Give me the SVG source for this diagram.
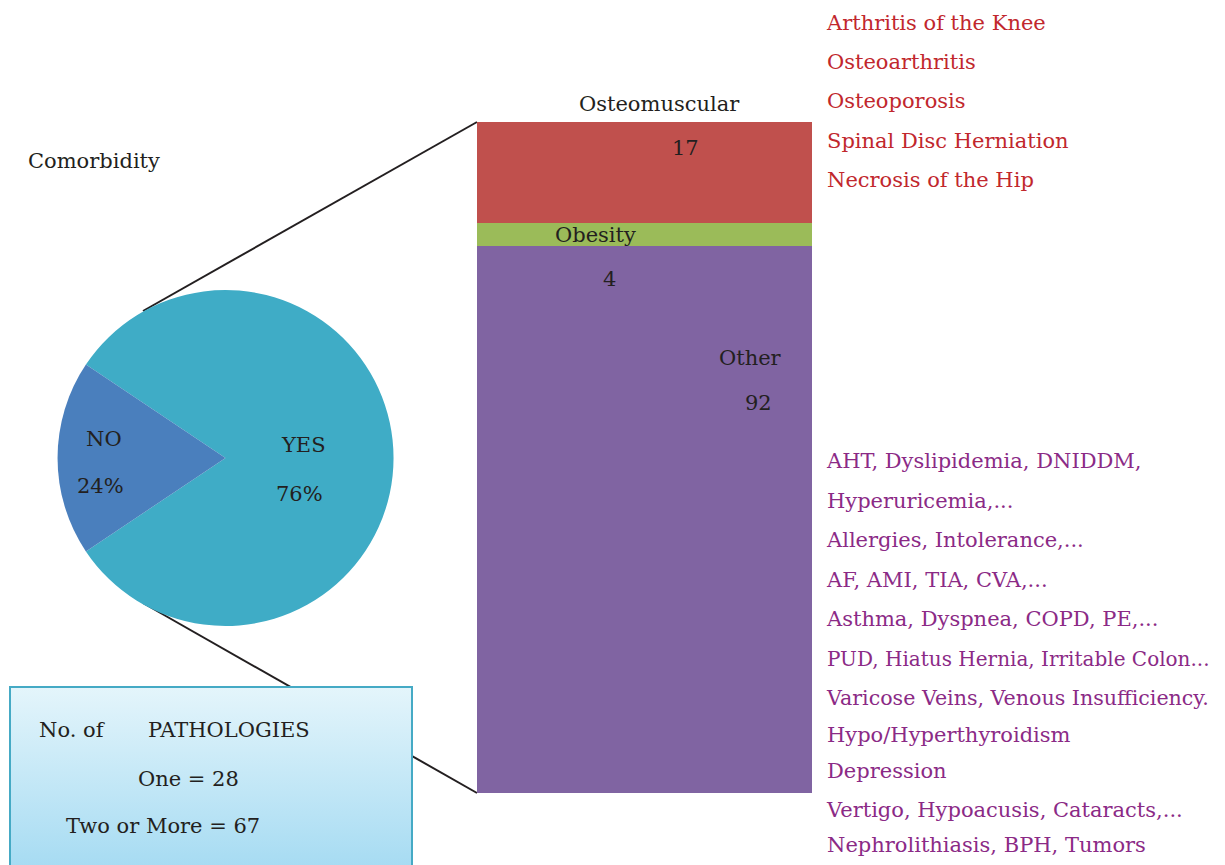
<svg xmlns="http://www.w3.org/2000/svg" width="1225" height="865" viewBox="0 0 1225 865">
<style>
text{font-family:"DejaVu Serif","Liberation Serif",serif;font-size:21px;fill:#231F20}
.red{fill:#C1272D}
.pur{fill:#8B2A86}
.conn{stroke:#231F20;stroke-width:2;fill:none}
</style>
<defs>
<linearGradient id="boxg" x1="0" y1="0" x2="0" y2="1">
<stop offset="0" stop-color="#E4F5FB"/>
<stop offset="1" stop-color="#A3DAF2"/>
</linearGradient>
</defs>
<rect width="1225" height="865" fill="#FFFFFF"/>
<g id="connectors">
<line class="conn" x1="143" y1="311" x2="477" y2="122"/>
<line class="conn" x1="143" y1="603" x2="477" y2="793"/>
</g>
<g id="title"><text x="28" y="168">Comorbidity</text></g>
<g id="pie">
<path id="yes" d="M225.5,458 L85.9,364.6 A168,168 0 1 1 85.9,551.4 Z" fill="#3FACC6"/>
<path id="no" d="M225.5,458 L85.9,551.4 A168,168 0 0 1 85.9,364.6 Z" fill="#4A7FBD"/>
<text x="86" y="446">NO</text>
<text x="77" y="493">24%</text>
<text x="282" y="452">YES</text>
<text x="276" y="501">76%</text>
</g>
<g id="pathologies">
<rect x="10" y="687" width="402" height="190" fill="url(#boxg)" stroke="#45AAC5" stroke-width="2"/>
<text x="39" y="737">No. of</text>
<text x="148" y="737">PATHOLOGIES</text>
<text x="138" y="786">One = 28</text>
<text x="66" y="833">Two or More = 67</text>
</g>
<g id="bar">
<rect x="477" y="122" width="335" height="101" fill="#C0504D"/>
<rect x="477" y="223" width="335" height="23" fill="#9BBB59"/>
<rect x="477" y="246" width="335" height="547" fill="#8064A2"/>
<text x="579" y="111">Osteomuscular</text>
<text x="672" y="155">17</text>
<text x="555" y="242">Obesity</text>
<text x="603" y="286">4</text>
<text x="719" y="365">Other</text>
<text x="745" y="410">92</text>
</g>
<g id="osteo-list">
<text class="red" x="827" y="30">Arthritis of the Knee</text>
<text class="red" x="827" y="69">Osteoarthritis</text>
<text class="red" x="827" y="108">Osteoporosis</text>
<text class="red" x="827" y="148">Spinal Disc Herniation</text>
<text class="red" x="827" y="187">Necrosis of the Hip</text>
</g>
<g id="other-list">
<text class="pur" x="827" y="468">AHT, Dyslipidemia, DNIDDM,</text>
<text class="pur" x="827" y="508">Hyperuricemia,...</text>
<text class="pur" x="827" y="547">Allergies, Intolerance,...</text>
<text class="pur" x="827" y="587">AF, AMI, TIA, CVA,...</text>
<text class="pur" x="827" y="626">Asthma, Dyspnea, COPD, PE,...</text>
<text class="pur" x="827" y="666" style="font-size:20px">PUD, Hiatus Hernia, Irritable Colon...</text>
<text class="pur" x="827" y="705" style="font-size:20.6px">Varicose Veins, Venous Insufficiency.</text>
<text class="pur" x="827" y="742">Hypo/Hyperthyroidism</text>
<text class="pur" x="827" y="778">Depression</text>
<text class="pur" x="827" y="817">Vertigo, Hypoacusis, Cataracts,...</text>
<text class="pur" x="827" y="852">Nephrolithiasis, BPH, Tumors</text>
</g>
</svg>
